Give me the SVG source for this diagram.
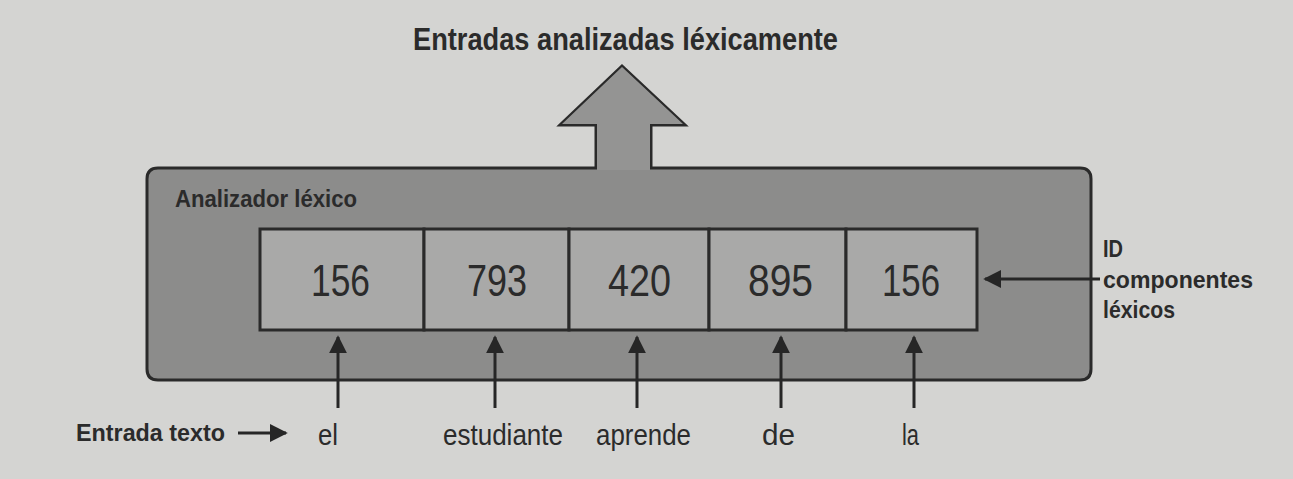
<svg xmlns="http://www.w3.org/2000/svg" width="1293" height="479" viewBox="0 0 1293 479">
<defs>
<style>
.t{font-family:"Liberation Sans",Arial,sans-serif;fill:#2b2b2b}
.b{font-weight:bold}
.num{font-size:44px}
.w{font-size:30px}
.ln{stroke:#262626;stroke-width:3;fill:none}
.cell{fill:#a9a9a8;stroke:#2a2a2a;stroke-width:3}
</style>
<marker id="ah" viewBox="0 0 10 10" refX="9" refY="5" markerWidth="6" markerHeight="6" markerUnits="strokeWidth" orient="auto">
<path d="M0,0 L10,5 L0,10 Z" fill="#262626"/>
</marker>
</defs>
<rect x="0" y="0" width="1293" height="479" fill="#d4d4d2"/>
<g id="title"><text class="t b" x="413" y="50" font-size="31" textLength="425" lengthAdjust="spacingAndGlyphs">Entradas analizadas léxicamente</text></g>
<g id="analizador">
<path d="M158,168 H596 V125 H560 L622,66 L685,125 H651 V168 H1080 Q1091,168 1091,179 V369 Q1091,380 1080,380 H158 Q147,380 147,369 V179 Q147,168 158,168 Z" fill="#8c8c8b" stroke="#2a2a2a" stroke-width="3"/>
<path d="M597,170 V124 H562 L622,67 L683,124 H650 V170 Z" fill="#949493"/>
<text class="t b" x="175" y="207" font-size="23" textLength="182" lengthAdjust="spacingAndGlyphs">Analizador léxico</text>
</g>
<g id="celdas">
<g id="c1"><rect class="cell" x="260" y="229" width="164" height="101"/><text class="t num" x="311" y="296" textLength="59" lengthAdjust="spacingAndGlyphs">156</text></g>
<g id="c2"><rect class="cell" x="424" y="229" width="145" height="101"/><text class="t num" x="467" y="296" textLength="60" lengthAdjust="spacingAndGlyphs">793</text></g>
<g id="c3"><rect class="cell" x="569" y="229" width="140" height="101"/><text class="t num" x="608" y="296" textLength="63" lengthAdjust="spacingAndGlyphs">420</text></g>
<g id="c4"><rect class="cell" x="709" y="229" width="137" height="101"/><text class="t num" x="748" y="296" textLength="65" lengthAdjust="spacingAndGlyphs">895</text></g>
<g id="c5"><rect class="cell" x="846" y="229" width="131" height="101"/><text class="t num" x="882" y="296" textLength="58" lengthAdjust="spacingAndGlyphs">156</text></g>
</g>
<g id="id-label">
<text class="t b" x="1103" y="257" font-size="24" textLength="20" lengthAdjust="spacingAndGlyphs">ID</text>
<text class="t b" x="1103" y="288" font-size="24" textLength="150" lengthAdjust="spacingAndGlyphs">componentes</text>
<text class="t b" x="1103" y="318" font-size="24" textLength="72" lengthAdjust="spacingAndGlyphs">léxicos</text>
</g>
<g id="entrada-label"><text class="t b" x="76" y="441" font-size="23" textLength="149" lengthAdjust="spacingAndGlyphs">Entrada texto</text></g>
<g id="palabras">
<text class="t w" x="318" y="445" textLength="20" lengthAdjust="spacingAndGlyphs">el</text>
<text class="t w" x="443" y="445" textLength="120" lengthAdjust="spacingAndGlyphs">estudiante</text>
<text class="t w" x="596" y="445" textLength="95" lengthAdjust="spacingAndGlyphs">aprende</text>
<text class="t w" x="762" y="445" textLength="33" lengthAdjust="spacingAndGlyphs">de</text>
<text class="t w" x="902" y="445" textLength="17" lengthAdjust="spacingAndGlyphs">la</text>
</g>
<g id="connectors">
<line class="ln" x1="1100" y1="279" x2="985" y2="279" marker-end="url(#ah)"/>
<line class="ln" x1="238" y1="433" x2="286" y2="433" marker-end="url(#ah)"/>
<line class="ln" x1="338" y1="408" x2="338" y2="337" marker-end="url(#ah)"/>
<line class="ln" x1="495" y1="408" x2="495" y2="337" marker-end="url(#ah)"/>
<line class="ln" x1="637" y1="408" x2="637" y2="337" marker-end="url(#ah)"/>
<line class="ln" x1="781" y1="408" x2="781" y2="337" marker-end="url(#ah)"/>
<line class="ln" x1="914" y1="408" x2="914" y2="337" marker-end="url(#ah)"/>
</g>
</svg>
